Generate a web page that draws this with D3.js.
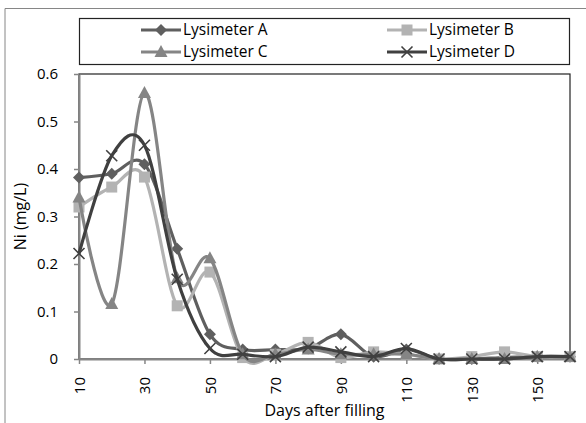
<!DOCTYPE html>
<meta charset="utf-8">
<script src="https://d3js.org/d3.v7.min.js"></script>
<style>
  body { margin: 0; background: #fff; }
  text { font-family: "Open Sans", "Liberation Sans", sans-serif; fill: #000; }
</style>
<div id="viz"></div>
<script>

var days = [10, 20, 30, 40, 50, 60, 70, 80, 90, 100, 110, 120, 130, 140, 150, 160];
var xTickLabels = [10, 30, 50, 70, 90, 110, 130, 150];
var yTicks = [0, 0.1, 0.2, 0.3, 0.4, 0.5, 0.6];

var lysA = [0.382, 0.39, 0.41, 0.232, 0.052, 0.02, 0.02, 0.022, 0.052, 0.005, 0.02, 0.0, 0.0, 0.003, 0.005, 0.005];
var lysB = [0.32, 0.362, 0.383, 0.112, 0.183, 0.003, 0.01, 0.035, 0.003, 0.015, 0.01, 0.0, 0.005, 0.015, 0.005, 0.005];
var lysC = [0.34, 0.116, 0.56, 0.17, 0.212, 0.01, 0.01, 0.02, 0.01, 0.01, 0.01, 0.0, 0.0, 0.0, 0.005, 0.005];
var lysD = [0.222, 0.428, 0.45, 0.168, 0.022, 0.01, 0.005, 0.025, 0.015, 0.005, 0.022, 0.0, 0.0, 0.0, 0.005, 0.005];

var seriesNames = ["Lysimeter A", "Lysimeter B", "Lysimeter C", "Lysimeter D"];
var seriesColors = ["#5f5f5f", "#b3b3b3", "#858585", "#404040"];
var seriesSymbols = ["diamond", "square", "triangle", "cross"];

var W = 586, H = 423;
var margin = {top: 74, right: 16, bottom: 64, left: 79},
    width = W - margin.left - margin.right,
    height = H - margin.top - margin.bottom;

var svg = d3.select("#viz")
  .append("svg")
    .attr("width", W)
    .attr("height", H);

// outer chart border (only top and left visible)
svg.append("path")
  .attr("d", "M5,423V8.5H586")
  .attr("fill", "none")
  .attr("stroke", "#868686")
  .attr("stroke-width", 1);

var g = svg.append("g")
  .attr("transform", "translate(" + margin.left + "," + margin.top + ")");

var x = d3.scaleLinear()
  .domain([10, 160])
  .range([0, width]);

var y = d3.scaleLinear()
  .domain([0, 0.6])
  .range([height, 0]);

// plot area border
g.append("rect")
  .attr("x", 0).attr("y", 0)
  .attr("width", width).attr("height", height)
  .attr("fill", "none")
  .attr("stroke", "#222")
  .attr("stroke-width", 1.2);

// y axis
var yAxis = g.append("g")
  .call(d3.axisLeft(y).tickValues(yTicks).tickSize(5).tickSizeOuter(0)
    .tickFormat(function(d) { return d === 0 ? "0" : d3.format(".1f")(d); }));
yAxis.select(".domain").attr("stroke", "#868686").attr("stroke-width", 2);
yAxis.selectAll(".tick line").attr("stroke", "#868686").attr("stroke-width", 1.5);
yAxis.selectAll(".tick text").attr("font-size", 15).attr("x", -21);

// x axis
var xAxis = g.append("g")
  .attr("transform", "translate(0," + height + ")")
  .call(d3.axisBottom(x).tickValues(xTickLabels).tickSize(5).tickSizeOuter(0));
xAxis.select(".domain").attr("stroke", "#868686").attr("stroke-width", 2);
xAxis.selectAll(".tick line").attr("stroke", "#868686").attr("stroke-width", 1.5);
xAxis.selectAll(".tick text")
  .attr("font-size", 15)
  .attr("transform", "rotate(-90)")
  .attr("text-anchor", "end")
  .attr("x", -18)
  .attr("y", 0)
  .attr("dy", "0.35em");

// axis titles
svg.append("text")
  .attr("text-anchor", "middle")
  .attr("font-size", 16)
  .attr("transform", "translate(26," + (margin.top + height / 2) + ") rotate(-90)")
  .text("Ni (mg/L)");

svg.append("text")
  .attr("text-anchor", "middle")
  .attr("font-size", 16)
  .attr("x", margin.left + width / 2)
  .attr("y", 416)
  .text("Days after filling");

var series = [lysA, lysB, lysC, lysD].map(function(vals, i) {
  return {
    name: seriesNames[i],
    color: seriesColors[i],
    symbol: seriesSymbols[i],
    values: vals.map(function(v, j) { return {day: days[j], v: v}; })
  };
});

var line = d3.line()
  .x(function(d) { return x(d.day); })
  .y(function(d) { return y(d.v); })
  .curve(d3.curveCardinal.tension(0));

function drawMarker(sel, sym, color) {
  if (sym === "diamond") {
    sel.append("path").attr("d", "M0,-6L6,0L0,6L-6,0Z").attr("fill", color);
  } else if (sym === "square") {
    sel.append("rect").attr("x", -5.5).attr("y", -5.5).attr("width", 11).attr("height", 11).attr("fill", color);
  } else if (sym === "triangle") {
    sel.append("path").attr("d", "M0,-7L6.5,5L-6.5,5Z").attr("fill", color);
  } else {
    sel.append("path").attr("d", "M-5.5,-5.5L5.5,5.5M-5.5,5.5L5.5,-5.5")
      .attr("stroke", color).attr("stroke-width", 1.6).attr("fill", "none");
  }
}

series.forEach(function(s) {
  g.append("path")
    .datum(s.values)
    .attr("d", line)
    .attr("fill", "none")
    .attr("stroke", s.color)
    .attr("stroke-width", 3.2)
    .attr("stroke-linejoin", "round");
  g.append("g").selectAll("g")
    .data(s.values)
    .enter()
    .append("g")
      .attr("transform", function(d) { return "translate(" + x(d.day) + "," + y(d.v) + ")"; })
      .each(function() { drawMarker(d3.select(this), s.symbol, s.color); });
});

// legend
var legend = svg.append("g");
legend.append("rect")
  .attr("x", 79.5).attr("y", 18.5)
  .attr("width", 490).attr("height", 46)
  .attr("fill", "#fff")
  .attr("stroke", "#222")
  .attr("stroke-width", 1.2);

var legPos = [[141, 30], [387, 30], [141, 52], [387, 52]];
series.forEach(function(s, i) {
  var lg = legend.append("g")
    .attr("transform", "translate(" + legPos[i][0] + "," + legPos[i][1] + ")");
  lg.append("line")
    .attr("x1", 0).attr("x2", 40)
    .attr("stroke", s.color).attr("stroke-width", 3.2);
  var m = lg.append("g").attr("transform", "translate(20,0)");
  drawMarker(m, s.symbol, s.color);
  lg.append("text")
    .attr("x", 42).attr("y", 0).attr("dy", "0.35em")
    .attr("font-size", 15.5)
    .text(s.name);
});

</script>
